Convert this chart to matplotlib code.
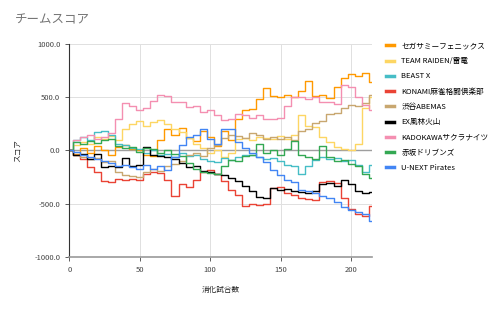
import matplotlib
matplotlib.use('Agg')
import matplotlib.pyplot as plt

plt.rcParams['font.family'] = ['Noto Sans CJK JP', 'DejaVu Sans']

# games played (sampled every 5 games)
games = list(range(0, 216, 5))

teams = ['セガサミーフェニックス', 'TEAM RAIDEN/雷電', 'BEAST X', 'KONAMI麻雀格闘倶楽部', '渋谷ABEMAS',
         'EX風林火山', 'KADOKAWAサクラナイツ', '赤坂ドリブンズ', 'U-NEXT Pirates']

sega = [0, -30, 20, -20, 40, 0, -40, 30, 50, 10, 0, -40, -50, 100, 200, 150, 210, 120, 90, 180, 130, 40,
        180, 100, 300, 380, 390, 480, 590, 510, 500, 520, 500, 560, 650, 510, 520, 490, 600, 680, 720, 700,
        730, 640]
raiden = [0, 50, 80, 60, 130, 110, 140, 100, 200, 250, 280, 230, 270, 290, 250, 200, 170, 120, 60, 20, -20,
          0, -60, -20, 110, 120, 100, 130, 120, 110, 140, 110, 150, 330, 230, 220, 130, 80, 30, 10, 0, 60,
          400, 500]
beastx = [0, 100, 130, 100, 170, 180, 150, 60, 50, 20, 10, -20, 0, -40, -30, -60, -20, -50, -40, -80, -100,
          -110, -70, -90, -60, -40, -40, -60, -80, -70, -100, -140, -150, -220, -150, -90, -60, -80, -70,
          -100, -90, -140, -200, -140]
konami = [0, -40, -80, -160, -200, -290, -300, -270, -280, -270, -280, -220, -200, -210, -280, -430, -320,
          -340, -280, -200, -180, -220, -290, -370, -420, -520, -500, -510, -500, -350, -340, -400, -420,
          -450, -460, -470, -300, -290, -310, -450, -550, -600, -620, -520]
abemas = [0, -40, -60, -80, -70, -110, -100, -200, -230, -240, -250, -200, -170, -190, -150, -130, -100, -40,
          -20, -50, 20, 50, 120, 150, 140, 120, 160, 150, 110, 130, 110, 130, 100, 180, 200, 260, 280, 340,
          350, 400, 430, 420, 450, 520]
furin = [0, -40, -30, -80, -30, -160, -150, -160, -70, -150, -140, 30, -40, -50, -60, -80, -120, -160, -150,
         -190, -200, -220, -230, -260, -290, -330, -380, -440, -450, -350, -370, -360, -380, -390, -400,
         -380, -320, -310, -330, -280, -320, -380, -400, -390]
kadokawa = [0, 100, 130, 150, 110, 130, 160, 300, 450, 420, 380, 400, 470, 520, 510, 460, 460, 410, 420,
            360, 380, 330, 290, 300, 340, 330, 310, 330, 300, 300, 310, 420, 500, 500, 480, 500, 460, 460,
            440, 620, 600, 500, 430, 380]
drivens = [0, 80, 60, 90, 70, 100, 110, 40, 20, 30, -10, 20, 10, -20, 0, -30, -50, -120, -170, -200, -210,
           -220, -150, -90, -100, -50, -40, 60, -20, 0, -40, 10, 90, -40, -60, -80, 40, -60, -100, -90, -130,
           -150, -220, -260]
pirates = [0, -10, -40, -60, -80, -100, -120, -150, -140, -160, -170, -140, -170, -150, -180, -60, 50, 130,
           150, 200, 110, 60, 200, 200, 80, 20, -20, -60, -110, -180, -230, -280, -300, -370, -380, -400,
           -430, -450, -480, -530, -560, -580, -600, -660]

series = [sega, raiden, beastx, konami, abemas, furin, kadokawa, drivens, pirates]
colors = ['#ff9900', '#fdd663', '#46bdc6', '#ea4335', '#c8a770', '#000000', '#f48fb1', '#34a853', '#4285f4']

fig = plt.figure(figsize=(5, 3.09), dpi=100)
ax = fig.add_axes([0.1386, 0.169, 0.606, 0.688])

for name, vals, c in zip(teams, series, colors):
    ax.plot(games, vals, color=c, lw=1.0, label=name, drawstyle='steps-mid')

ax.set_xlim(0, 215)
ax.set_ylim(-1000, 1000)
ax.set_xticks([0, 50, 100, 150, 200])
ax.set_yticks([-1000, -500, 0, 500, 1000])
ax.set_yticklabels(['-1000.0', '-500.0', '0.0', '500.0', '1000.0'])
ax.grid(True, color='#e0e0e0', lw=0.7)
ax.set_axisbelow(True)
ax.axhline(0, color='#9e9e9e', lw=1.0, zorder=1.5)

for s in ['top', 'right']:
    ax.spines[s].set_visible(False)
ax.spines['left'].set_color('#333333')
ax.spines['left'].set_linewidth(0.8)
ax.spines['bottom'].set_color('#999999')
ax.spines['bottom'].set_linewidth(1.2)
ax.tick_params(labelsize=5.5, colors='#444444', length=3, width=0.6)

ax.set_xlabel('消化試合数', fontsize=5.5, color='#222222', labelpad=9)
ax.set_ylabel('スコア', fontsize=5.5, color='#222222', labelpad=8)

fig.text(0.03, 0.925, 'チームスコア', fontsize=9, color='#757575')

ax.legend(loc='upper left', bbox_to_anchor=(1.035, 1.025), frameon=False, fontsize=5.5,
          handlelength=1.0, handletextpad=1.0, labelspacing=0.95, borderaxespad=0)
for line in ax.get_legend().get_lines():
    line.set_linewidth(2.5)

fig.savefig('out.png', dpi=100)
